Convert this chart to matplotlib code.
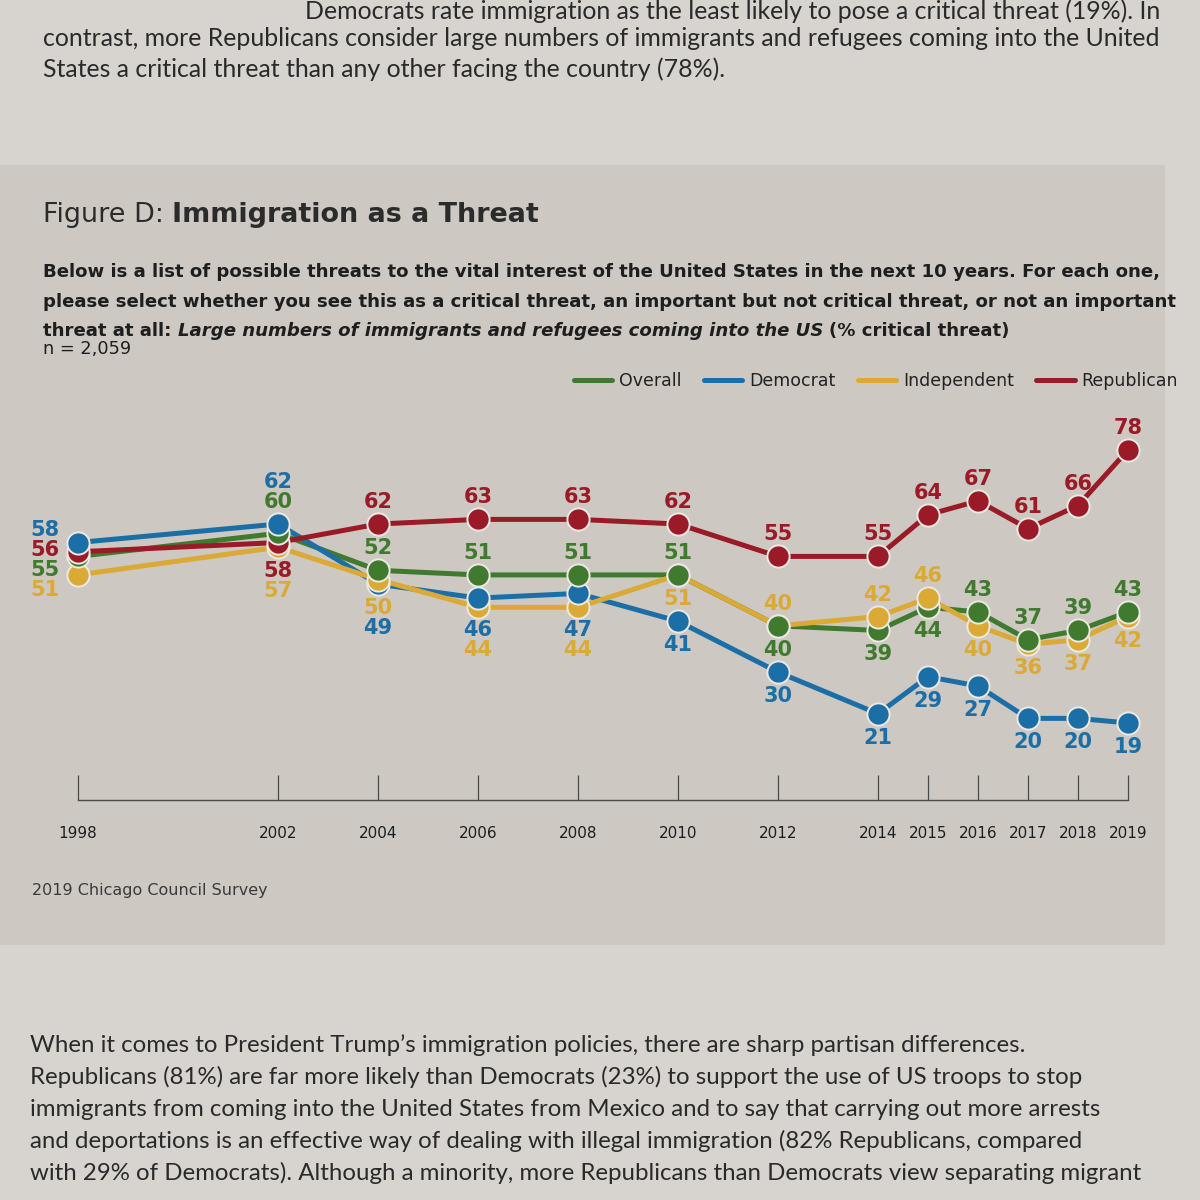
import matplotlib
matplotlib.use("Agg")
import matplotlib.pyplot as plt
from matplotlib.patches import Rectangle

# ---------------- data ----------------
years = [1998, 2002, 2004, 2006, 2008, 2010, 2012, 2014, 2015, 2016, 2017, 2018, 2019]
year_labels = [str(y) for y in years]
overall = [55, 60, 52, 51, 51, 51, 40, 39, 44, 43, 37, 39, 43]
democrat = [58, 62, 49, 46, 47, 41, 30, 21, 29, 27, 20, 20, 19]
independent = [51, 57, 50, 44, 44, 51, 40, 42, 46, 40, 36, 37, 42]
republican = [56, 58, 62, 63, 63, 62, 55, 55, 64, 67, 61, 66, 78]
series_names = ["Overall", "Democrat", "Independent", "Republican"]

title_regular = "Figure D:"
title_bold = "Immigration as a Threat"
subtitle_1 = "Below is a list of possible threats to the vital interest of the United States in the next 10 years. For each one,"
subtitle_2 = "please select whether you see this as a critical threat, an important but not critical threat, or not an important"
subtitle_3a = "threat at all:"
subtitle_3b = "Large numbers of immigrants and refugees coming into the US"
subtitle_3c = "(% critical threat)"
n_note = "n = 2,059"
source = "2019 Chicago Council Survey"

top_text = [
    "Democrats rate immigration as the least likely to pose a critical threat (19%). In",
    "contrast, more Republicans consider large numbers of immigrants and refugees coming into the United",
    "States a critical threat than any other facing the country (78%).",
]
bottom_text = [
    "When it comes to President Trump\u2019s immigration policies, there are sharp partisan differences.",
    "Republicans (81%) are far more likely than Democrats (23%) to support the use of US troops to stop",
    "immigrants from coming into the United States from Mexico and to say that carrying out more arrests",
    "and deportations is an effective way of dealing with illegal immigration (82% Republicans, compared",
    "with 29% of Democrats). Although a minority, more Republicans than Democrats view separating migrant",
]

# ---------------- style ----------------
PAGE = "#d7d4cf"
PANEL = "#cdc9c2"
EDGE = "#ece9e4"
colors = {"Overall": "#3f7a2f", "Democrat": "#1b6ea6",
          "Independent": "#dba935", "Republican": "#9a1b27"}
tiebreak = {"Overall": 0.004, "Democrat": 0.003, "Republican": 0.002, "Independent": 0.001}

# label placement: vertical pixel offset (positive = downward); first point goes left
label_off = {
    "Overall":     [13.6, -31.3, -22, -22, -22, -22, 24, 24, 24, -22, -22, -22, -22],
    "Democrat":    [-12.5, -42, 43.8, 32, 36.6, 24, 24, 24, 24, 24, 24, 24, 24],
    "Independent": [15.1, 43.8, 28.5, 42.7, 42.7, 24, -22, -22, -22, 24, 24, 24, 24],
    "Republican":  [-1.8, 28.5, -22, -22, -22, -22, -22, -22, -22, -22, -22, -22, -22],
}

W = H = 1200
FONT = "DejaVu Sans"
BODY_FONT = "Lato"

fig = plt.figure(figsize=(12, 12), dpi=100)
fig.patch.set_facecolor(PAGE)


def fx(px):
    return px / W


def fy(py):
    return 1 - py / H


fig.patches.append(Rectangle((0, fy(945)), fx(1165), (945 - 165) / H,
                             transform=fig.transFigure, facecolor=PANEL,
                             edgecolor="none", zorder=-5))

renderer = fig.canvas.get_renderer()


def measure(s, size, **kw):
    t = fig.text(0, 0, s, fontsize=size, **kw)
    w = t.get_window_extent(renderer).width
    t.remove()
    return w


def space_w(size, **kw):
    return measure("a a", size, **kw) - measure("aa", size, **kw)


def parts_width(parts, size):
    total = 0
    for i, (s, kw) in enumerate(parts):
        total += measure(s, size, **kw)
        if i < len(parts) - 1:
            total += space_w(size, **kw)
    return total


def fit_size(parts, target):
    return 20 * target / parts_width(parts, 20)


def draw_parts(x0, y, parts, size, ha="left"):
    if ha == "right":
        x0 = x0 - parts_width(parts, size)
    x = x0
    for i, (s, kw) in enumerate(parts):
        t = fig.text(fx(x), fy(y), s, fontsize=size, ha="left", va="center", **kw)
        x += t.get_window_extent(renderer).width
        if i < len(parts) - 1:
            x += space_w(size, **kw)
    return x


# ---------------- page text ----------------
body_kw = dict(family=BODY_FONT, color="#2a2a2a")
bsize = fit_size([(top_text[1], body_kw)], 1120)
draw_parts(1160, 11, [(top_text[0], body_kw)], bsize, ha="right")
draw_parts(43, 38, [(top_text[1], body_kw)], bsize)
draw_parts(43, 69, [(top_text[2], body_kw)], bsize)

bsize2 = fit_size([(bottom_text[2], body_kw)], 1070)
for i, line in enumerate(bottom_text):
    draw_parts(30, 1045 + 32 * i, [(line, body_kw)], bsize2)

# ---------------- figure header ----------------
reg = dict(family=FONT, color="#2b2b2b")
bold = dict(family=FONT, color="#2b2b2b", fontweight="bold")
tparts = [(title_regular, reg), (title_bold, bold)]
draw_parts(43, 215, tparts, fit_size(tparts, 497))

sb = dict(family=FONT, color="#1e1e1e", fontweight="bold")
sbi = dict(family=FONT, color="#1e1e1e", fontweight="bold", style="italic")
ssize = fit_size([(subtitle_1, sb)], 1120)
draw_parts(43, 272, [(subtitle_1, sb)], ssize)
draw_parts(43, 302, [(subtitle_2, sb)], ssize)
draw_parts(43, 331, [(subtitle_3a, sb), (subtitle_3b, sbi), (subtitle_3c, sb)], ssize)
draw_parts(43, 349, [(n_note, dict(family=FONT, color="#1e1e1e"))], ssize * 0.98)
draw_parts(32, 890, [(source, dict(family=FONT, color="#3a3a3a"))], 11.5)

# ---------------- chart ----------------
ax = fig.add_axes([fx(40), fy(800), fx(1130), 380 / H])
ax.set_xlim(1997.24, 2019.84)
ax.set_ylim(2.36, 84.48)
ax.patch.set_alpha(0)
for s in ["top", "right", "left"]:
    ax.spines[s].set_visible(False)
ax.spines["bottom"].set_bounds(years[0], years[-1])
ax.spines["bottom"].set_color("#4a4a4a")
ax.spines["bottom"].set_linewidth(1.0)
ax.set_xticks(years)
ax.set_xticklabels(year_labels, family=FONT)
ax.tick_params(axis="x", direction="in", length=18, width=0.9, color="#4a4a4a",
               pad=19, labelsize=11, labelcolor="#1e1e1e")
ax.set_yticks([])

data = {"Overall": overall, "Democrat": democrat,
        "Independent": independent, "Republican": republican}

handles = []
for name in series_names:
    vals = data[name]
    c = colors[name]
    (ln,) = ax.plot(years, vals, color=c, lw=3.6, solid_capstyle="round",
                    zorder=2, label=name)
    handles.append(ln)
    for i, (x, v) in enumerate(zip(years, vals)):
        ax.plot([x], [v], "o", ms=16, mfc=c, mec=EDGE, mew=1.4,
                zorder=3 + v / 100 + tiebreak[name])
        off = label_off[name][i]
        if i == 0:
            ax.annotate(str(v), (x, v), xytext=(-18, -off), textcoords="offset pixels",
                        ha="right", va="center", fontsize=15, fontweight="bold",
                        color=c, family=FONT, annotation_clip=False, zorder=6)
        else:
            ax.annotate(str(v), (x, v), xytext=(0, -off), textcoords="offset pixels",
                        ha="center", va="center", fontsize=15, fontweight="bold",
                        color=c, family=FONT, annotation_clip=False, zorder=6)

leg = fig.legend(handles, series_names, loc="center right",
                 bbox_to_anchor=(fx(1178), fy(381)), ncol=4, frameon=False,
                 handlelength=2.2, handletextpad=0.4,
                 columnspacing=1.3, borderaxespad=0, borderpad=0,
                 prop=dict(family=FONT, size=12.5))
for t in leg.get_texts():
    t.set_color("#222222")

fig.savefig("out.png", dpi=100, facecolor=fig.get_facecolor())
